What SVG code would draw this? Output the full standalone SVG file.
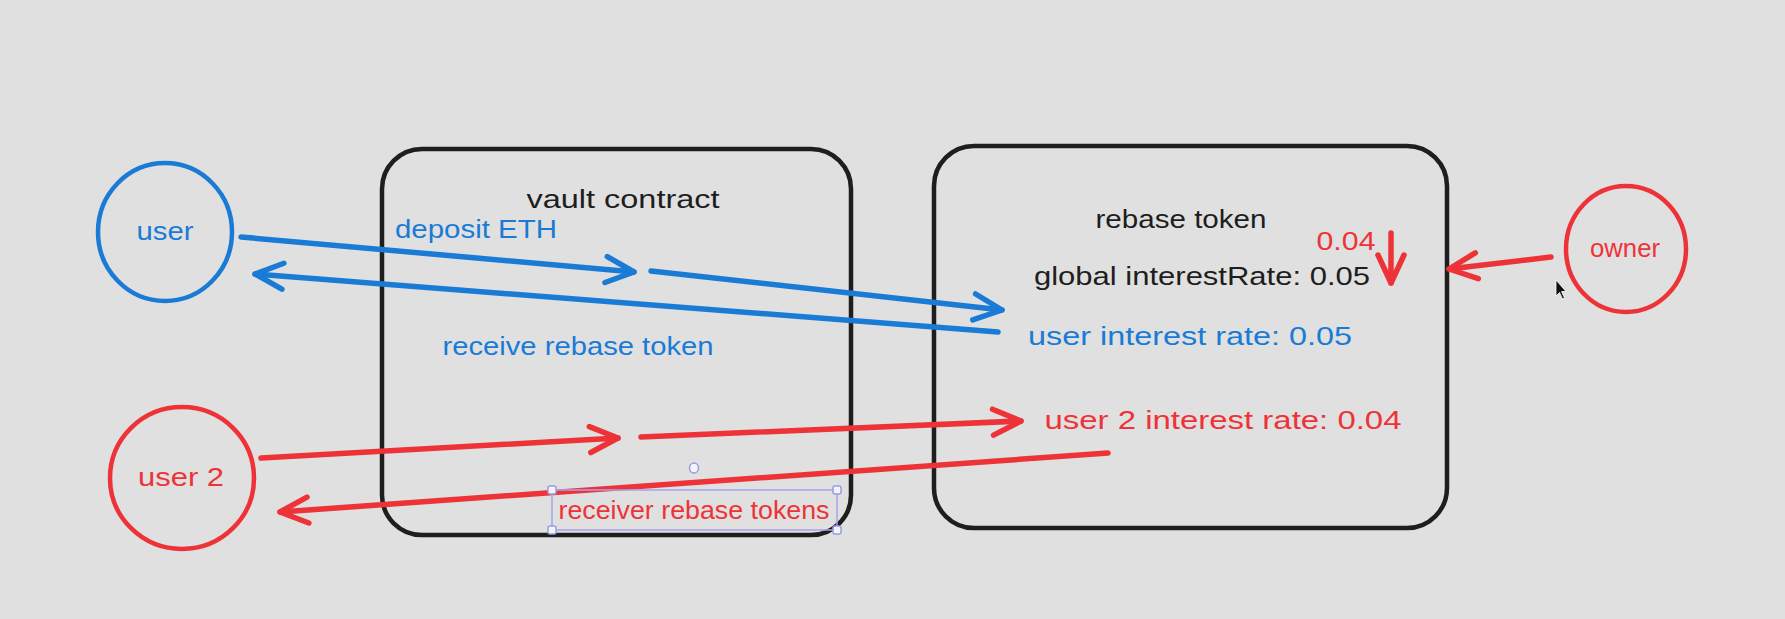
<svg xmlns="http://www.w3.org/2000/svg" width="1785" height="619" viewBox="0 0 1785 619">
<style>
  .bg{fill:#e0e0e0}
  .box{fill:none;stroke:#1e1e1e;stroke-width:4.5;stroke-linejoin:round}
  .cb{fill:none;stroke:#1a7bd6;stroke-width:4.5}
  .cr{fill:none;stroke:#ee3338;stroke-width:4.5}
  text{font-family:"Liberation Sans","Open Sans",sans-serif;font-size:25px;text-anchor:middle}
  .tk{fill:#1e1e1e}
  .tb{fill:#1a7bd6}
  .tr{fill:#ee3338}
  .ab{fill:none;stroke:#1a7bd6;stroke-width:5.5;stroke-linecap:round}
  .ar{fill:none;stroke:#ee3338;stroke-width:5.5;stroke-linecap:round}
  .sel{fill:none;stroke:#a4a4ee;stroke-width:1.5}
  .hd{fill:#f4f4fb;stroke:#9a9ae6;stroke-width:1.5}
</style>
<defs>
  <marker id="mb" markerUnits="userSpaceOnUse" markerWidth="40" markerHeight="40" refX="0" refY="0" viewBox="-32 -20 40 40" orient="auto" overflow="visible">
    <path d="M-28,-13 L0,0 L-28,13" fill="none" stroke="#1a7bd6" stroke-width="5.5" stroke-linecap="round" stroke-linejoin="round"/>
  </marker>
  <marker id="mr" markerUnits="userSpaceOnUse" markerWidth="40" markerHeight="40" refX="0" refY="0" viewBox="-32 -20 40 40" orient="auto" overflow="visible">
    <path d="M-28,-13 L0,0 L-28,13" fill="none" stroke="#ee3338" stroke-width="5.5" stroke-linecap="round" stroke-linejoin="round"/>
  </marker>
</defs>
<rect class="bg" x="0" y="0" width="1785" height="619"/>

<g id="vault">
  <rect class="box" x="382" y="149" width="469" height="386" rx="40"/>
  <text class="tk" x="623" y="208" textLength="193" lengthAdjust="spacingAndGlyphs">vault contract</text>
</g>
<g id="rebase">
  <rect class="box" x="934" y="146" width="513" height="382" rx="40"/>
  <text class="tk" x="1181" y="228" textLength="171" lengthAdjust="spacingAndGlyphs">rebase token</text>
  <text class="tk" x="1202" y="285" textLength="336" lengthAdjust="spacingAndGlyphs">global interestRate: 0.05</text>
  <text class="tr" x="1346" y="250" textLength="59" lengthAdjust="spacingAndGlyphs">0.04</text>
  <text class="tb" x="1190" y="345" textLength="324" lengthAdjust="spacingAndGlyphs">user interest rate: 0.05</text>
  <text class="tr" x="1223" y="429" textLength="357" lengthAdjust="spacingAndGlyphs">user 2 interest rate: 0.04</text>
</g>
<g id="user">
  <ellipse class="cb" cx="165" cy="232" rx="67" ry="69"/>
  <text class="tb" x="165" y="240" textLength="57" lengthAdjust="spacingAndGlyphs">user</text>
</g>
<g id="user2">
  <ellipse class="cr" cx="182" cy="478" rx="72" ry="71"/>
  <text class="tr" x="181" y="486" textLength="86" lengthAdjust="spacingAndGlyphs">user 2</text>
</g>
<g id="owner">
  <ellipse class="cr" cx="1626" cy="249" rx="60" ry="63"/>
  <text class="tr" x="1625" y="257" textLength="70" lengthAdjust="spacingAndGlyphs">owner</text>
</g>

<g id="connectors">
  <path class="ab" d="M241,237 L634,272" marker-end="url(#mb)"/>
  <path class="ab" d="M651,271 L1002,310" marker-end="url(#mb)"/>
  <path class="ab" d="M998,332 L255,274" marker-end="url(#mb)"/>
  <path class="ar" d="M261,458 L618,438" marker-end="url(#mr)"/>
  <path class="ar" d="M641,437 L1021,421" marker-end="url(#mr)"/>
  <path class="ar" d="M1108,453 L280,512" marker-end="url(#mr)"/>
  <path class="ar" d="M1551,257 L1449,269" marker-end="url(#mr)"/>
  <path class="ar" d="M1391,233 L1391,283" marker-end="url(#mr)"/>
</g>

<g id="labels">
  <text class="tb" x="476" y="238" textLength="162" lengthAdjust="spacingAndGlyphs">deposit ETH</text>
  <text class="tb" x="578" y="355" textLength="271" lengthAdjust="spacingAndGlyphs">receive rebase token</text>
</g>

<g id="selection">
  <rect class="sel" x="552" y="490" width="285" height="40"/>
  <rect class="hd" x="548" y="486" width="8" height="8" rx="2"/>
  <rect class="hd" x="833" y="486" width="8" height="8" rx="2"/>
  <rect class="hd" x="548" y="526" width="8" height="8" rx="2"/>
  <rect class="hd" x="833" y="526" width="8" height="8" rx="2"/>
  <ellipse class="hd" cx="694" cy="468" rx="4.5" ry="5"/>
  <text class="tr" x="694" y="519" textLength="271" lengthAdjust="spacingAndGlyphs">receiver rebase tokens</text>
</g>

<path d="M1556,280 L1556,296 L1559.5,292.5 L1562.5,299 L1564.5,298 L1561.5,291.5 L1566,291.5 Z" fill="#111" stroke="#fff" stroke-width="0.8"/>
</svg>
